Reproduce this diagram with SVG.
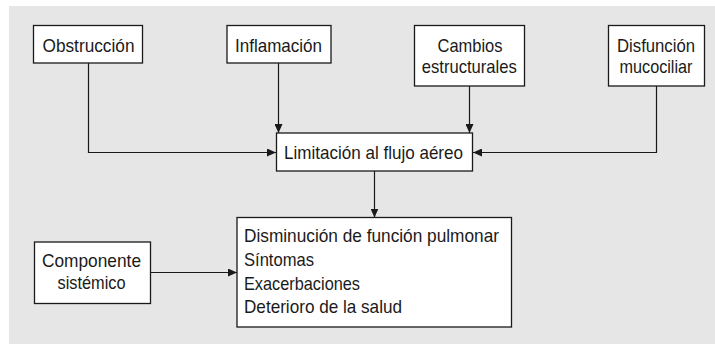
<svg xmlns="http://www.w3.org/2000/svg" width="715" height="344" viewBox="0 0 715 344">
  <defs>
    <style>
      .bg { fill: #e6e6e6; }
      .box { fill: #ffffff; stroke: #1a1a1a; stroke-width: 1.3; }
      .lbl { font-family: "Liberation Sans", Arial, sans-serif; font-size: 18.5px; fill: #1a1a1a; }
      .conn { fill: none; stroke: #1a1a1a; stroke-width: 1.2; marker-end: url(#arr); }
    </style>
    <marker id="arr" markerUnits="userSpaceOnUse" markerWidth="9" markerHeight="8" refX="9" refY="4" orient="auto">
      <path d="M0,0 L9,4 L0,8 Z" fill="#1a1a1a"/>
    </marker>
  </defs>

  <rect class="bg" x="9" y="6" width="706" height="338"/>

  <g id="connectors">
    <path class="conn" d="M88.5,63 V152.5 H276"/>
    <path class="conn" d="M278.5,63 V133"/>
    <path class="conn" d="M469.5,86 V133"/>
    <path class="conn" d="M656.5,86 V152.5 H473"/>
    <path class="conn" d="M374.5,171 V217.5"/>
    <path class="conn" d="M150,272.5 H237"/>
  </g>

  <g id="obstruccion">
    <rect class="box" x="33.5" y="25.5" width="109" height="37.5"/>
    <text class="lbl" x="42.5" y="52" textLength="92" lengthAdjust="spacingAndGlyphs">Obstrucción</text>
  </g>

  <g id="inflamacion">
    <rect class="box" x="227" y="25.5" width="104" height="37.5"/>
    <text class="lbl" x="235" y="52" textLength="87" lengthAdjust="spacingAndGlyphs">Inflamación</text>
  </g>

  <g id="cambios">
    <rect class="box" x="414.5" y="25.5" width="110" height="60.5"/>
    <text class="lbl" x="437.5" y="51.5" textLength="65" lengthAdjust="spacingAndGlyphs">Cambios</text>
    <text class="lbl" x="421.8" y="73.3" textLength="95" lengthAdjust="spacingAndGlyphs">estructurales</text>
  </g>

  <g id="disfuncion">
    <rect class="box" x="608.5" y="25.5" width="96" height="60.5"/>
    <text class="lbl" x="617" y="51.5" textLength="78" lengthAdjust="spacingAndGlyphs">Disfunción</text>
    <text class="lbl" x="619.5" y="73.3" textLength="73" lengthAdjust="spacingAndGlyphs">mucociliar</text>
  </g>

  <g id="limitacion">
    <rect class="box" x="276.5" y="133" width="196" height="38"/>
    <text class="lbl" x="284" y="159.3" textLength="179" lengthAdjust="spacingAndGlyphs">Limitación al flujo aéreo</text>
  </g>

  <g id="componente">
    <rect class="box" x="34.5" y="242" width="116" height="61.5"/>
    <text class="lbl" x="42" y="267" textLength="99" lengthAdjust="spacingAndGlyphs">Componente</text>
    <text class="lbl" x="57.5" y="289.3" textLength="68" lengthAdjust="spacingAndGlyphs">sistémico</text>
  </g>

  <g id="consecuencias">
    <rect class="box" x="237" y="217.5" width="274.5" height="109.5"/>
    <text class="lbl" x="244" y="241.7" textLength="255" lengthAdjust="spacingAndGlyphs">Disminución de función pulmonar</text>
    <text class="lbl" x="244" y="265.5" textLength="70" lengthAdjust="spacingAndGlyphs">Síntomas</text>
    <text class="lbl" x="244" y="289.5" textLength="116" lengthAdjust="spacingAndGlyphs">Exacerbaciones</text>
    <text class="lbl" x="244" y="313.3" textLength="158" lengthAdjust="spacingAndGlyphs">Deterioro de la salud</text>
  </g>
</svg>
